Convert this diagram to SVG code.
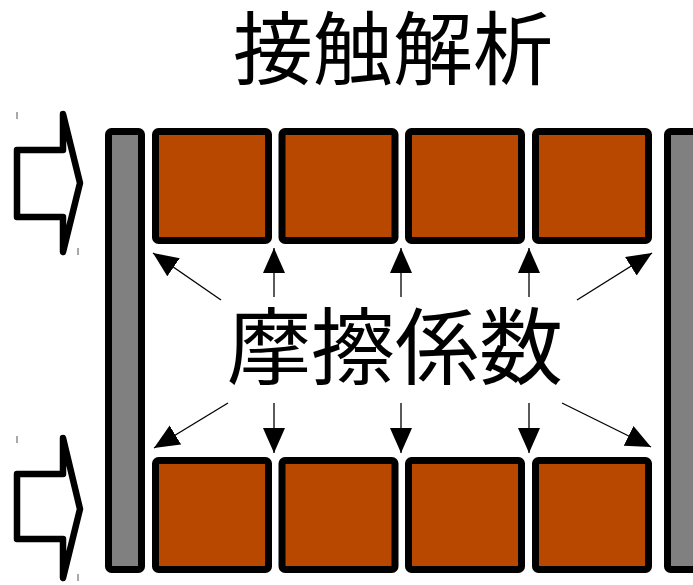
<svg xmlns="http://www.w3.org/2000/svg" width="693" height="585" viewBox="0 0 693 585">
<style>
.bar{fill:#808080;stroke:#000;stroke-width:7;stroke-linejoin:round}
.blk{fill:#b84700;stroke:#000;stroke-width:7;stroke-linejoin:round}
.push{fill:#fff;stroke:#000;stroke-width:6.5;stroke-linejoin:round}
.tick{stroke:#555;stroke-width:1}
.ln{stroke:#000;stroke-width:1.3;fill:none;marker-end:url(#ah)}
.t{font-family:"Noto Sans CJK JP","Noto Sans CJK SC",sans-serif;fill:#000;text-anchor:middle}
</style>
<defs>
<marker id="ah" markerUnits="userSpaceOnUse" markerWidth="28" markerHeight="24" refX="25" refY="11" orient="auto">
<path d="M0,0 L25,11 L0,22 Z" fill="#000"/>
</marker>
</defs>
<rect width="693" height="585" fill="#fff"/>
<g id="title"><text class="t" x="393" y="78" font-size="80">接触解析</text></g>
<g id="push-top">
<polygon class="push" points="17,150 63,150 63,114 80,183 63,252 63,217 17,217"/>
<line class="tick" x1="17" y1="112" x2="17" y2="119"/>
<line class="tick" x1="78" y1="248" x2="78" y2="255"/>
</g>
<g id="push-bottom">
<polygon class="push" points="17,474 63,474 63,438 80,509 63,578 63,539 17,539"/>
<line class="tick" x1="17" y1="436" x2="17" y2="443"/>
<line class="tick" x1="78" y1="574" x2="78" y2="581"/>
</g>
<g id="wall-left"><rect class="bar" x="108.5" y="131.5" width="33" height="438" rx="3"/></g>
<g id="wall-right"><rect class="bar" x="667.5" y="131.5" width="33" height="438" rx="3"/></g>
<g id="top-blocks">
<rect class="blk" x="155.5" y="131.5" width="113" height="109" rx="3"/>
<rect class="blk" x="282" y="131.5" width="113" height="109" rx="3"/>
<rect class="blk" x="408.5" y="131.5" width="113" height="109" rx="3"/>
<rect class="blk" x="535.5" y="131.5" width="113" height="109" rx="3"/>
</g>
<g id="bottom-blocks">
<rect class="blk" x="155.5" y="460.5" width="113" height="109" rx="3"/>
<rect class="blk" x="282" y="460.5" width="113" height="109" rx="3"/>
<rect class="blk" x="408.5" y="460.5" width="113" height="109" rx="3"/>
<rect class="blk" x="535.5" y="460.5" width="113" height="109" rx="3"/>
</g>
<g id="connectors">
<line class="ln" x1="221" y1="300" x2="153" y2="253"/>
<line class="ln" x1="274" y1="297" x2="274" y2="248"/>
<line class="ln" x1="401" y1="297" x2="401" y2="248"/>
<line class="ln" x1="529" y1="297" x2="529" y2="248"/>
<line class="ln" x1="577" y1="300" x2="652" y2="253"/>
<line class="ln" x1="228" y1="403" x2="154" y2="448"/>
<line class="ln" x1="274" y1="403" x2="274" y2="453"/>
<line class="ln" x1="401" y1="403" x2="401" y2="453"/>
<line class="ln" x1="529" y1="403" x2="529" y2="453"/>
<line class="ln" x1="562" y1="403" x2="651" y2="447"/>
</g>
<g id="label"><text class="t" x="395" y="378" font-size="84">摩擦係数</text></g>
</svg>
